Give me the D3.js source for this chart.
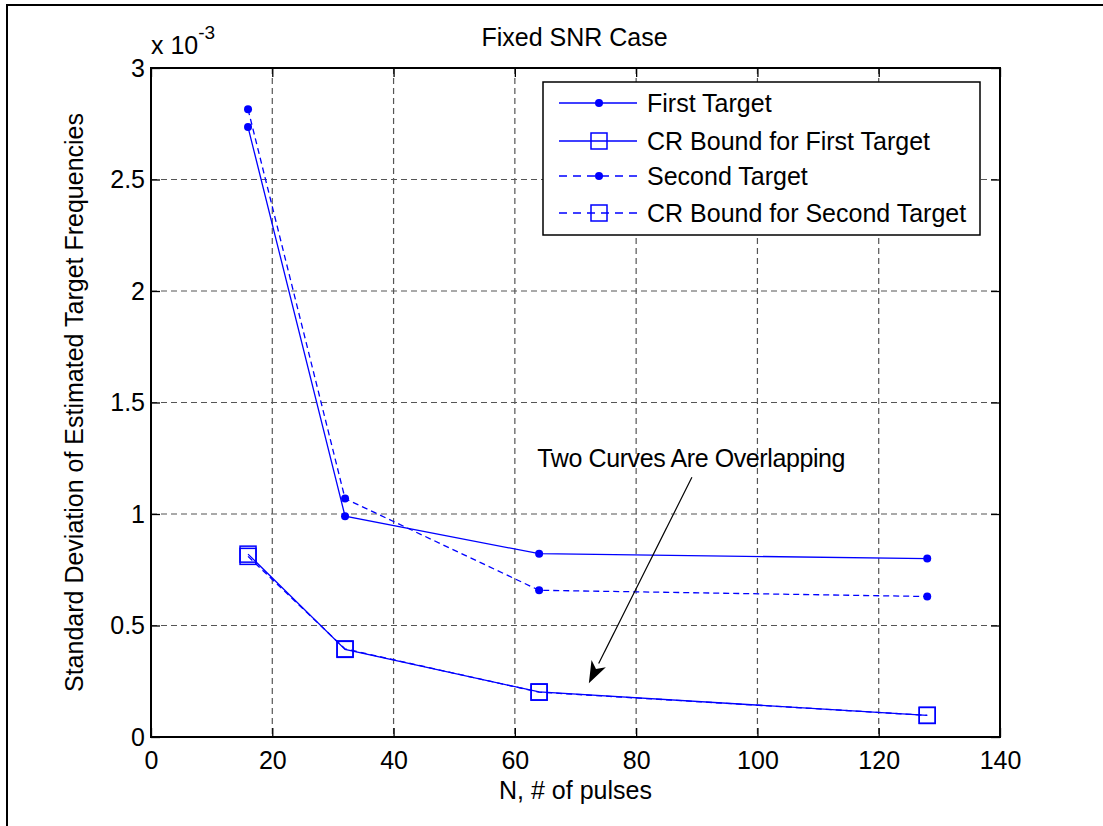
<!DOCTYPE html>
<html>
<head>
<meta charset="utf-8">
<script src="https://cdn.jsdelivr.net/npm/d3@7"></script>
<style>
  body { margin: 0; background: #fff; }
  svg { display: block; font-family: Arial, "Liberation Sans", Helvetica, sans-serif; }
  .grid line { stroke: #555; stroke-dasharray: 6,4; stroke-width: 1.2; }
  .lbl { font-size: 25px; fill: #000; }
</style>
</head>
<body>
<svg id="canvas" width="1103" height="826"></svg>
<script>
// data (y in units of 1e-3)
const pulses = [16, 32, 64, 128];
const firstTarget = [2.735, 0.99, 0.822, 0.80];
const crFirst = [0.82, 0.393, 0.202, 0.097];
const secondTarget = [2.815, 1.069, 0.658, 0.63];
const crSecond = [0.81, 0.395, 0.201, 0.097];
const xTicks = [0, 20, 40, 60, 80, 100, 120, 140];
const yTicks = [0, 0.5, 1, 1.5, 2, 2.5, 3];

const series = [
  { name: "First Target", y: firstTarget, dash: null, marker: "dot" },
  { name: "CR Bound for First Target", y: crFirst, dash: null, marker: "square" },
  { name: "Second Target", y: secondTarget, dash: "6,4", marker: "dot" },
  { name: "CR Bound for Second Target", y: crSecond, dash: "6,4", marker: "square" }
];

const svg = d3.select("#canvas");
const pLeft = 151, pRight = 1000, pTop = 68, pBottom = 737;

const x = d3.scaleLinear().domain([0, 140]).range([pLeft, pRight]);
const y = d3.scaleLinear().domain([0, 3]).range([pBottom, pTop]);

// figure frame (only left/top edges show in the picture)
svg.append("path").attr("d", "M7,826V5H1103")
  .attr("fill", "none").attr("stroke", "#000").attr("stroke-width", 2);

// grid
const grid = svg.append("g").attr("class", "grid");
grid.selectAll(".vx").data(xTicks.slice(1, -1)).enter().append("line")
  .attr("x1", d => x(d)).attr("x2", d => x(d)).attr("y1", pTop).attr("y2", pBottom);
grid.selectAll(".hy").data(yTicks.slice(1, -1)).enter().append("line")
  .attr("y1", d => y(d)).attr("y2", d => y(d)).attr("x1", pLeft).attr("x2", pRight);

// axes, matlab style ticks pointing in
const tick = 9;
const xAxis = d3.axisBottom(x).tickValues(xTicks).tickSize(-tick).tickPadding(14).tickFormat(d3.format("d"));
const yAxis = d3.axisLeft(y).tickValues(yTicks).tickSize(-tick).tickPadding(6).tickFormat(d => d);
const xTop = d3.axisTop(x).tickValues(xTicks).tickSize(-tick).tickFormat("");
const yRight = d3.axisRight(y).tickValues(yTicks).tickSize(-tick).tickFormat("");

function styleAxis(g) {
  g.select(".domain").remove();
  g.selectAll("line").attr("stroke", "#000").attr("stroke-width", 1.3);
  g.selectAll("text").attr("class", "lbl").attr("fill", "#000").style("font-size", "25px");
}
svg.append("g").attr("transform", `translate(0,${pBottom})`).call(xAxis).call(styleAxis);
svg.append("g").attr("transform", `translate(${pLeft},0)`).call(yAxis).call(styleAxis);
svg.append("g").attr("transform", `translate(0,${pTop})`).call(xTop).call(styleAxis);
svg.append("g").attr("transform", `translate(${pRight},0)`).call(yRight).call(styleAxis);

svg.append("rect").attr("x", pLeft).attr("y", pTop)
  .attr("width", pRight - pLeft).attr("height", pBottom - pTop)
  .attr("fill", "none").attr("stroke", "#000").attr("stroke-width", 2);

// series
const line = d3.line().x(d => x(d[0])).y(d => y(d[1]));
const blue = "#0000ff";

function drawMarker(g, kind, cx, cy) {
  if (kind === "dot") {
    g.append("circle").attr("cx", cx).attr("cy", cy).attr("r", 4).attr("fill", blue);
  } else {
    g.append("rect").attr("x", cx - 8).attr("y", cy - 8).attr("width", 16).attr("height", 16)
      .attr("fill", "none").attr("stroke", blue).attr("stroke-width", 1.5);
  }
}

const plot = svg.append("g");
series.forEach(s => {
  const pts = pulses.map((p, i) => [p, s.y[i]]);
  plot.append("path").attr("d", line(pts))
    .attr("fill", "none").attr("stroke", blue).attr("stroke-width", 1.3)
    .attr("stroke-dasharray", s.dash);
  pts.forEach(p => drawMarker(plot, s.marker, x(p[0]), y(p[1])));
});

// title & labels
svg.append("text").attr("class", "lbl").attr("x", (pLeft + pRight) / 2 - 1).attr("y", 46)
  .attr("text-anchor", "middle").text("Fixed SNR Case");
svg.append("text").attr("class", "lbl").attr("x", (pLeft + pRight) / 2).attr("y", 799)
  .attr("text-anchor", "middle").text("N, # of pulses");
svg.append("text").attr("class", "lbl")
  .attr("transform", `translate(83,${(pTop + pBottom) / 2}) rotate(-90)`)
  .attr("text-anchor", "middle").text("Standard Deviation of Estimated Target Frequencies");

const expo = svg.append("text").attr("class", "lbl").attr("x", 151).attr("y", 54);
expo.append("tspan").text("x 10");
expo.append("tspan").attr("dy", -15).style("font-size", "19px").text("-3");

// annotation with arrow
const annot = { text: "Two Curves Are Overlapping", tx: 63.7, ty: 1.21, x0: 89.2, y0: 1.165, x1: 72.2, y1: 0.241 };
svg.append("text").attr("class", "lbl").attr("x", x(annot.tx)).attr("y", y(annot.ty))
  .style("letter-spacing", "-0.4px").text(annot.text);
const ax0 = x(annot.x0), ay0 = y(annot.y0), ax1 = x(annot.x1), ay1 = y(annot.y1);
const ang = Math.atan2(ay1 - ay0, ax1 - ax0);
const hl = 22, hw = 8;
const bx = ax1 - hl * Math.cos(ang), by = ay1 - hl * Math.sin(ang);
svg.append("line").attr("x1", ax0).attr("y1", ay0).attr("x2", bx).attr("y2", by)
  .attr("stroke", "#000").attr("stroke-width", 1.2);
svg.append("path")
  .attr("d", `M${ax1},${ay1}L${bx + hw * Math.sin(ang)},${by - hw * Math.cos(ang)}` +
    `L${ax1 - (hl - 6) * Math.cos(ang)},${ay1 - (hl - 6) * Math.sin(ang)}` +
    `L${bx - hw * Math.sin(ang)},${by + hw * Math.cos(ang)}Z`)
  .attr("fill", "#000");

// legend
const lg = svg.append("g").attr("transform", "translate(543,82)");
lg.append("rect").attr("width", 437).attr("height", 153)
  .attr("fill", "#fff").attr("stroke", "#000").attr("stroke-width", 1.5);
const rowY = [21, 59, 94, 131];
series.forEach((s, i) => {
  const ry = rowY[i];
  lg.append("line").attr("x1", 16).attr("x2", 94).attr("y1", ry).attr("y2", ry)
    .attr("stroke", blue).attr("stroke-width", 1.3).attr("stroke-dasharray", s.dash ? "8,6" : null);
  drawMarker(lg, s.marker, 56, ry);
  lg.append("text").attr("class", "lbl").attr("x", 104).attr("y", ry + 9).text(s.name);
});
</script>
</body>
</html>
